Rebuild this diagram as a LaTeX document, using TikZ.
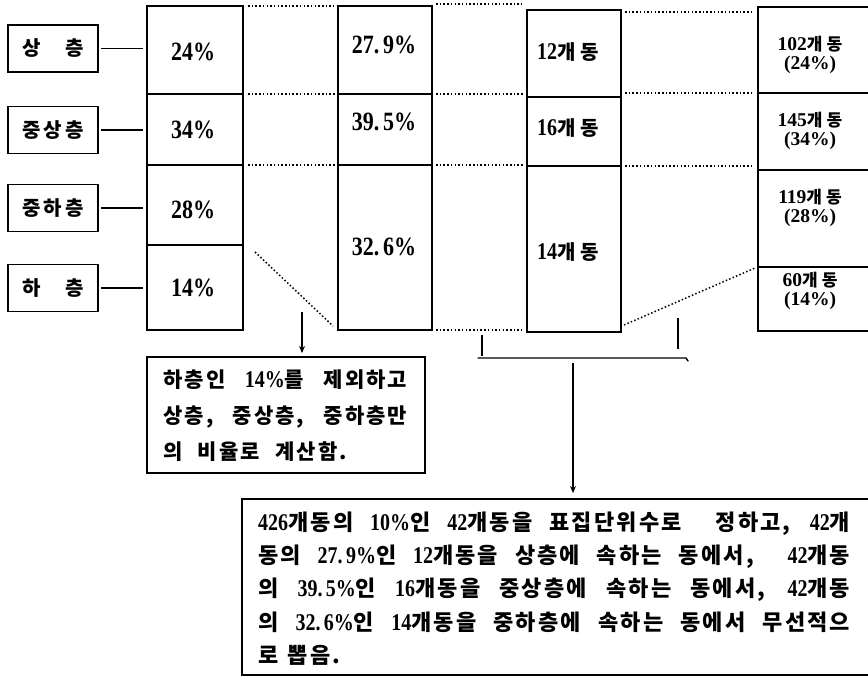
\documentclass[tikz,border=0pt]{standalone}
\usepackage{graphicx}
\usepackage{fontspec}
\setmainfont{Liberation Serif}
\newfontfamily\cjk{Noto Sans CJK KR}[LetterSpace=10]
\newcommand\nm[1]{{\rmfamily\bfseries\fontsize{20}{20}\selectfont\scalebox{1}[1.2]{#1}}}
\newcommand\nms[1]{{\rmfamily\bfseries\fontsize{19.5}{18}\selectfont #1}}
\newcommand\pc[1]{\scalebox{1}[1.2]{#1}}
\usetikzlibrary{arrows.meta}
\begin{document}
\begin{tikzpicture}[x=1pt,y=-1pt,
  ln/.style={line width=1.4pt},
  dl/.style={line width=1.5pt, dash pattern=on 1.5pt off 2.2pt},
  cell/.style={draw, line width=1.4pt, inner sep=0pt, outer sep=0pt},
  lab/.style={draw, line width=1.4pt, minimum width=90pt, minimum height=47pt, inner sep=0pt, outer sep=0pt, font=\cjk\bfseries\fontsize{20}{20}\selectfont},
  pct/.style={font=\rmfamily\bfseries\fontsize{22}{22}\selectfont, inner sep=0pt},
  kt/.style={font=\cjk\bfseries\fontsize{22}{22}\selectfont, inner sep=0pt},
  arr/.style={line width=1.3pt, -{Stealth[length=7pt,width=6pt]}}]
\useasboundingbox (0,0) rectangle (868,687);
% left labels
\node[lab] (l1) at (53,48.5) {상\hspace{25pt}층};
\node[lab] (l2) at (53,130) {중\hspace{3pt}상\hspace{3pt}층};
\node[lab] (l3) at (53,208) {중\hspace{3pt}하\hspace{3pt}층};
\node[lab] (l4) at (53,288) {하\hspace{25pt}층};
% column 1
\node[cell, minimum width=96pt, minimum height=88pt] (c1a) at (195,50) {};
\node[cell, minimum width=96pt, minimum height=71pt] (c1b) at (195,129.5) {};
\node[cell, minimum width=96pt, minimum height=80pt] (c1c) at (195,205) {};
\node[cell, minimum width=96pt, minimum height=85pt] (c1d) at (195,287.5) {};
\node[pct] (t1a) at (193,52) {\pc{24\%}};
\node[pct] (t1b) at (193,130) {\pc{34\%}};
\node[pct] (t1c) at (193,210) {\pc{28\%}};
\node[pct] (t1d) at (193,288) {\pc{14\%}};
% column 2
\node[cell, minimum width=94pt, minimum height=88pt] (c2a) at (385,50) {};
\node[cell, minimum width=94pt, minimum height=71pt] (c2b) at (385,129.5) {};
\node[cell, minimum width=94pt, minimum height=165pt] (c2c) at (385,247.5) {};
\node[pct] (t2a) at (384,45) {\pc{27.\,9\%}};
\node[pct] (t2b) at (384,122) {\pc{39.\,5\%}};
\node[pct] (t2c) at (384,247) {\pc{32.\,6\%}};
% column 3
\node[cell, minimum width=94pt, minimum height=87pt] (c3a) at (574,53.5) {};
\node[cell, minimum width=94pt, minimum height=69pt] (c3b) at (574,131.5) {};
\node[cell, minimum width=94pt, minimum height=166pt] (c3c) at (574,249) {};
\tikzset{c3t/.style={kt, font=\cjk\bfseries\fontsize{20}{20}\selectfont}}
\node[c3t] (t3a) at (568,52) {\nm{12}개\hspace{5pt}동};
\node[c3t] (t3b) at (568,128) {\nm{16}개\hspace{5pt}동};
\node[c3t] (t3c) at (568,252) {\nm{14}개\hspace{5pt}동};
% column 4
\node[cell, minimum width=114pt, minimum height=86pt] (c4a) at (815,50) {};
\node[cell, minimum width=114pt, minimum height=77pt] (c4b) at (815,131.5) {};
\node[cell, minimum width=114pt, minimum height=97pt] (c4c) at (815,218.5) {};
\node[cell, minimum width=114pt, minimum height=64pt] (c4d) at (815,299) {};
\tikzset{c4t/.style={kt, align=center, font=\cjk\bfseries\fontsize{17}{19}\selectfont}}
\node[c4t] (t4a) at (810,55) {\nms{102}개\hspace{4pt}동\\\nms{(24\%)}};
\node[c4t] (t4b) at (810,131) {\nms{145}개\hspace{4pt}동\\\nms{(34\%)}};
\node[c4t] (t4c) at (810,208) {\nms{119}개\hspace{4pt}동\\\nms{(28\%)}};
\node[c4t] (t4d) at (810,291) {\nms{60}개\hspace{4pt}동\\\nms{(14\%)}};
% label connectors
\foreach \a/\b in {l1/c1a,l2/c1b,l3/c1c,l4/c1d}
  \draw[ln, shorten <=3pt, shorten >=4pt] (\a.east) -- (\a.east -| \b.west);
% gap 1 dotted
\draw[dl, shorten <=5pt, shorten >=4pt] (c1a.north east) -- (c2a.north west);
\draw[dl, shorten <=5pt, shorten >=3pt] (c1a.south east) -- (c2a.south west);
\draw[dl, shorten <=5pt, shorten >=3pt] (c1b.south east) -- (c2b.south west);
\draw[dl] ([shift={(12,7)}]c1d.north east) -- ([shift={(-5,-4)}]c2c.south west);
% gap 2 dotted
\draw[dl, shorten <=4pt, shorten >=5pt] ([yshift=2pt]c2a.north east) -- ([yshift=2pt]c2a.north east -| c3a.west);
\draw[dl, shorten <=4pt, shorten >=4pt] (c2a.south east) -- (c2a.south east -| c3a.west);
\draw[dl, shorten <=4pt, shorten >=4pt] (c2b.south east) -- (c2b.south east -| c3b.west);
\draw[dl, shorten <=4pt, shorten >=5pt] (c2c.south east) -- (c2c.south east -| c3c.west);
% gap 3 dotted
\draw[dl, shorten <=4pt, shorten >=4pt] ([yshift=-2pt]c3a.north east) -- ([yshift=-2pt]c3a.north east -| c4a.west);
\draw[dl, shorten <=4pt, shorten >=4pt] (c4a.south west -| c3a.east) -- (c4a.south west);
\draw[dl, shorten <=4pt, shorten >=4pt] (c3b.south east) -- (c3b.south east -| c4b.west);
\draw[dl] ([shift={(3,-7)}]c3c.south east) -- ([shift={(-3,1)}]c4d.north west);
% left explanation box
\node[cell, minimum width=278pt, minimum height=116pt] (lbox) at (286,415) {};
\node[kt, anchor=west, align=left, font=\cjk\bfseries\fontsize{21}{36}\selectfont] (ltext) at (163,416)
  {\makebox[244pt][s]{하층인 \nm{14\%}를 제외하고}\\
   \makebox[244pt][s]{상층, 중상층, 중하층만}\\
   \makebox[184pt][s]{의 비율로 계산함.}};
\coordinate (a1) at (302,312);
\draw[arr, shorten >=4pt] (a1) -- (a1 |- lbox.north);
% bracket
\coordinate (brL) at (482,335);
\coordinate (brR) at (678,318);
\coordinate (brH1) at (478,358);
\coordinate (brH2) at (686,358);
\coordinate (brC) at (573,363);
\draw[ln] (brL) -- ++(0,21);
\draw[ln] (brR) -- ++(0,31);
\draw[ln, line cap=round] (brH1) -- (brH2) -- ++(2,3);
% bottom box
\node[cell, minimum width=630pt, minimum height=176pt] (bbox) at (557,587) {};
\draw[arr, shorten >=6pt] (brC) -- (brC |- bbox.north);
\node[kt, anchor=west, align=left, font=\cjk\bfseries\fontsize{22}{33.3}\selectfont] (btext) at (258,588.5)
  {\makebox[592pt][s]{\nm{426}개동의 \nm{10\%}인 \nm{42}개동을 표집단위수로\ \ 정하고, \nm{42}개}\\
   \makebox[592pt][s]{동의 \nm{27.\,9\%}인 \nm{12}개동을 상층에 속하는 동에서,\ \ \nm{42}개동}\\
   \makebox[592pt][s]{의 \nm{39.\,5\%}인 \nm{16}개동을 중상층에 속하는 동에서, \nm{42}개동}\\
   \makebox[592pt][s]{의 \nm{32.\,6\%}인 \nm{14}개동을 중하층에 속하는 동에서 무선적으}\\
   \makebox[82pt][s]{로 뽑음.}};
\end{tikzpicture}
\end{document}
